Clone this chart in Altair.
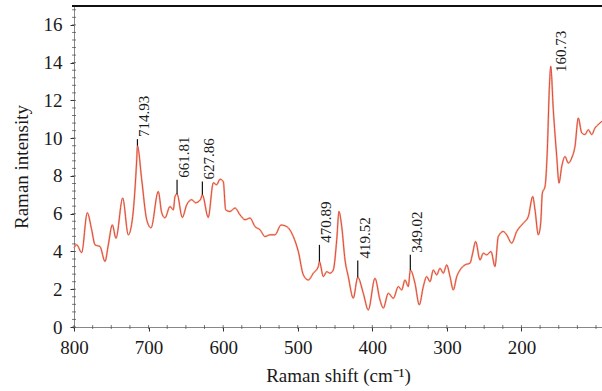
import altair as alt
import pandas as pd

# Raman spectrum: shift (cm^-1) and intensity
shift = [800, 796.4, 789.7, 782.2, 776.3, 771.8, 765.1, 758.4, 754.0, 748.6,
         743.7, 734.7, 727.2, 721.3, 715.9, 714.93, 709.2, 702.5, 696.7, 687.0,
         682.4, 678.0, 671.3, 666.8, 664.6, 661.81, 654.8, 648.9, 642.2, 636.8,
         630.5, 627.86, 620.0, 613.2, 608.7, 604.2, 599.8, 596.6, 590.8, 584.1,
         577.4, 570.7, 564.0, 557.3, 550.6, 543.9, 537.2, 530.5, 522.4, 514.8,
         505.9, 499.2, 492.5, 485.8, 479.1, 472.4, 470.89, 465.7, 461.2, 456.7,
         452.3, 447.7, 444.7, 441.0, 436.6, 432.2, 425.5, 419.52, 412.1, 405.4,
         396.4, 389.7, 385.3, 378.5, 371.8, 365.1, 360.6, 356.2, 351.7, 349.02,
         342.8, 337.0, 331.6, 327.1, 322.6, 318.2, 313.7, 309.2, 304.8, 300.2,
         295.8, 291.4, 286.8, 282.4, 275.7, 269.0, 265.9, 261.4, 255.6, 251.2,
         246.6, 240.8, 235.5, 231.1, 224.4, 219.8, 213.1, 206.4, 197.5, 190.8,
         184.9, 181.8, 177.4, 174.2, 172.0, 168.4, 165.3, 162.7, 160.73, 157.3,
         152.7, 149.7, 146.0, 141.6, 137.2, 132.6, 128.2, 123.8, 119.2, 114.8,
         110.4, 105.8, 101.4, 97.0, 92.0]
intensity = [4.2, 4.35, 3.94, 6.05, 5.15, 4.35, 4.26, 3.47, 4.35, 5.41,
             4.7, 6.83, 4.88, 5.85, 8.86, 9.6, 7.8, 5.68, 5.25, 7.18,
             6.05, 5.78, 6.38, 6.2, 6.9, 7.05, 5.8, 6.47, 6.74, 6.58,
             6.74, 7.0, 5.8, 7.64, 7.53, 7.83, 7.7, 6.2, 6.12, 6.3,
             5.94, 5.68, 5.77, 5.32, 5.15, 4.79, 4.88, 4.88, 5.4, 5.32,
             4.79, 4.0, 2.76, 2.49, 2.85, 3.2, 3.47, 2.67, 2.93, 2.85,
             3.02, 4.62, 6.12, 5.32, 3.55, 2.67, 1.52, 2.64, 1.79, 0.9,
             2.58, 1.43, 1.0, 1.79, 1.52, 2.14, 1.96, 2.49, 2.14, 3.02,
             2.32, 1.17, 2.14, 2.67, 2.4, 3.02, 2.76, 3.11, 2.85, 3.29,
             2.67, 1.96, 2.67, 3.02, 3.29, 3.38, 3.82, 4.53, 3.55, 3.91,
             3.82, 4.0, 3.2, 4.79, 5.06, 4.88, 4.44, 5.06, 5.5, 5.85,
             6.91, 6.2, 4.88, 5.5, 7.09, 7.44, 9.39, 12.57, 13.81, 11.5,
             9.03, 7.62, 8.5, 9.03, 8.68, 8.95, 9.57, 11.07, 10.28, 10.19,
             10.45, 10.19, 10.54, 10.72, 10.9]

# Labelled peaks: position, marker start (on the curve) and marker end
peak_pos = [714.93, 661.81, 627.86, 470.89, 419.52, 349.02]
peak_base = [9.6, 7.05, 7.0, 3.47, 2.64, 3.02]
peak_top = [9.95, 7.8, 7.7, 4.35, 3.52, 3.82]
peak_text = ["714.93", "661.81", "627.86", "470.89", "419.52", "349.02"]

main_pos = [160.73]
main_anchor = [13.5]
main_text = ["160.73"]

x_major = [800, 700, 600, 500, 400, 300, 200]
x_minor = list(range(800, 99, -25))
y_major = [0, 2, 4, 6, 8, 10, 12, 14, 16]
y_minor = [round(i * 0.4, 1) for i in range(0, 43)]

spec = pd.DataFrame({"shift": shift, "intensity": intensity})
peaks = pd.DataFrame({"shift": peak_pos, "base": peak_base,
                      "top": peak_top, "text": peak_text})
main_peak = pd.DataFrame({"shift": main_pos, "anchor": main_anchor,
                          "text": main_text})
xminor_df = pd.DataFrame({"v": x_minor})
yminor_df = pd.DataFrame({"v": y_minor})

FONT = "Liberation Serif"
PLOT_W, PLOT_H = 528, 321
xscale = alt.Scale(domain=[800, 92], nice=False, zero=False)
yscale = alt.Scale(domain=[0, 17], nice=False, zero=True)

x_axis = alt.Axis(values=x_major, title="Raman shift (cm⁻¹)", grid=False,
                  orient="bottom", labelFlush=False,
                  tickSize=4, tickColor="#333", domainColor="#888",
                  labelFont=FONT, labelFontSize=19, labelColor="#1a1a1a",
                  labelPadding=7, titleFont=FONT, titleFontSize=19,
                  titleFontWeight="normal", titleColor="#1a1a1a", titlePadding=9)
y_axis = alt.Axis(values=y_major, title="Raman intensity", grid=False,
                  orient="left", labelFlush=False,
                  tickSize=4, tickColor="#333", domainColor="#888",
                  labelFont=FONT, labelFontSize=19, labelColor="#1a1a1a",
                  labelPadding=8, titleFont=FONT, titleFontSize=19,
                  titleFontWeight="normal", titleColor="#1a1a1a", titlePadding=12)

base = alt.Chart(spec)

glow = base.mark_line(color="#f4a870", strokeWidth=2.0, opacity=0.7,
                      interpolate="monotone").encode(
    x=alt.X("shift:Q", scale=xscale, axis=x_axis),
    y=alt.Y("intensity:Q", scale=yscale, axis=y_axis),
)
core = base.mark_line(color="#d8383f", strokeWidth=0.9,
                      interpolate="monotone").encode(
    x=alt.X("shift:Q", scale=xscale, axis=None),
    y=alt.Y("intensity:Q", scale=yscale, axis=None),
)

# minor ticks straddling both axis lines
x_minor_ticks = alt.Chart(xminor_df).mark_tick(
    orient="vertical", size=4, thickness=1, color="#444"
).encode(
    x=alt.X("v:Q", scale=xscale, axis=None),
    y=alt.value(PLOT_H),
)
y_minor_ticks = alt.Chart(yminor_df).mark_tick(
    orient="horizontal", size=4, thickness=1, color="#444"
).encode(
    y=alt.Y("v:Q", scale=yscale, axis=None),
    x=alt.value(0),
)

markers = alt.Chart(peaks).mark_rule(color="#111", strokeWidth=1.2).encode(
    x=alt.X("shift:Q", scale=xscale, axis=None),
    y=alt.Y("base:Q", scale=yscale, axis=None),
    y2="top:Q",
)
marker_text = alt.Chart(peaks).mark_text(
    angle=270, align="left", baseline="middle", dx=2, dy=7,
    font=FONT, fontSize=15, color="#1a1a1a"
).encode(
    x=alt.X("shift:Q", scale=xscale, axis=None),
    y=alt.Y("top:Q", scale=yscale, axis=None),
    text="text:N",
)
main_text_layer = alt.Chart(main_peak).mark_text(
    angle=270, align="left", baseline="middle", dx=0, dy=10,
    font=FONT, fontSize=15, color="#1a1a1a"
).encode(
    x=alt.X("shift:Q", scale=xscale, axis=None),
    y=alt.Y("anchor:Q", scale=yscale, axis=None),
    text="text:N",
)

top_border = alt.Chart(spec).mark_rule(color="#111", strokeWidth=1.6).encode(
    x=alt.value(-2), x2=alt.value(PLOT_W + 2), y=alt.value(0)
)

chart = alt.layer(
    glow, core, x_minor_ticks, y_minor_ticks, markers, marker_text,
    main_text_layer, top_border
).resolve_axis(
    x="independent", y="independent"
).properties(
    width=PLOT_W, height=PLOT_H,
    autosize=alt.AutoSizeParams(type="none"),
    padding={"left": 74, "top": 6, "right": 0, "bottom": 64},
    background="white",
).configure_view(stroke=None)

chart.save("out.html", embed_options={"renderer": "svg", "actions": False})
